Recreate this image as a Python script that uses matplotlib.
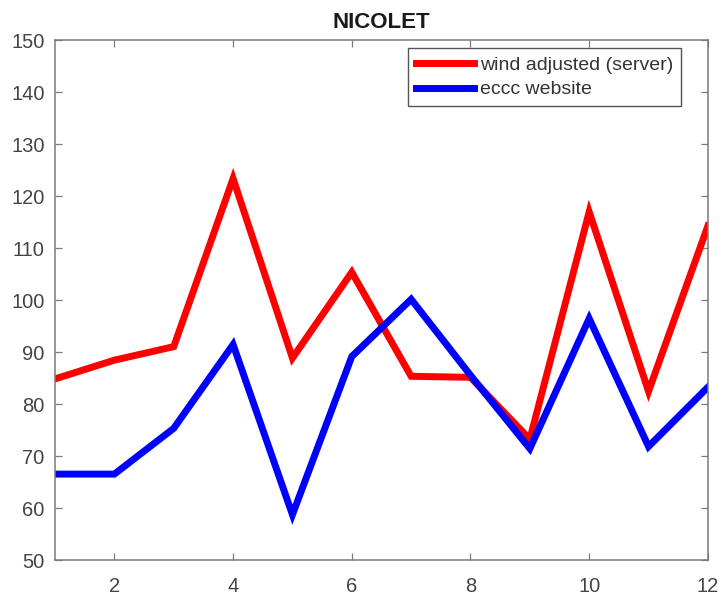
import matplotlib.pyplot as plt

plt.rcParams["font.family"] = ["Liberation Sans", "DejaVu Sans"]

months = list(range(1, 13))
wind_adjusted = [84.9, 88.5, 91.1, 123.4, 88.9, 105.4, 85.4, 85.2, 73.3, 117.0, 82.5, 114.3]
eccc_website = [66.6, 66.6, 75.4, 91.5, 58.8, 89.2, 100.2, 85.6, 71.5, 96.5, 71.9, 83.3]

SPINE_GRAY = "#7a7a7a"
TEXT_GRAY = "#444444"

fig = plt.figure(figsize=(7.27, 5.96), dpi=100)
ax = fig.add_axes([0.0757, 0.0596, 0.898, 0.873])

ax.plot(months, wind_adjusted, color="red", lw=5, label="wind adjusted (server)",
        solid_joinstyle="miter")
ax.plot(months, eccc_website, color="blue", lw=5, label="eccc website",
        solid_joinstyle="miter")

ax.set_xlim(1, 12)
ax.set_ylim(50, 150)
ax.set_xticks(range(2, 13, 2))
ax.set_yticks(range(50, 151, 10))
ax.tick_params(direction="in", top=True, right=True, length=5, width=0.9,
               color=SPINE_GRAY, labelcolor=TEXT_GRAY, labelsize=14.5)
ax.tick_params(axis="x", pad=12)
ax.tick_params(axis="y", pad=7.5)
for side in ax.spines.values():
    side.set_color(SPINE_GRAY)
    side.set_linewidth(1.1)

ax.set_title("NICOLET", fontsize=16, fontweight="bold", color="#1a1a1a", pad=9)

leg = ax.legend(loc="upper right", bbox_to_anchor=(0.9587, 0.984), borderaxespad=0,
                fontsize=14, frameon=True, fancybox=False, edgecolor="#555555",
                handlelength=3.0, handletextpad=0.3, borderpad=0.4,
                labelspacing=0.36, framealpha=1)
leg.get_frame().set_linewidth(1.0)
for text in leg.get_texts():
    text.set_color("#333333")

fig.savefig("out.png", dpi=100)
